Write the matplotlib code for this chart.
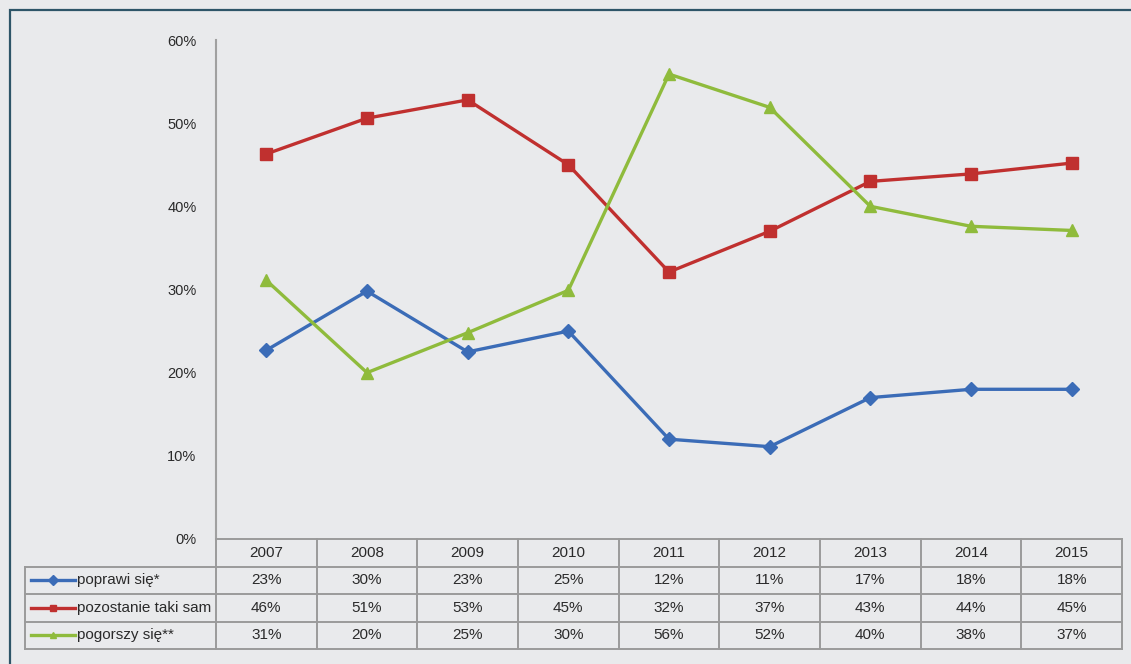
import matplotlib
matplotlib.use('Agg')
import matplotlib.pyplot as plt
from matplotlib.patches import Rectangle
from matplotlib.lines import Line2D

plt.rcParams['font.family'] = ['Liberation Sans', 'DejaVu Sans']

years = ['2007', '2008', '2009', '2010', '2011', '2012', '2013', '2014', '2015']
names = ['poprawi się*', 'pozostanie taki sam', 'pogorszy się**']

# values
poprawi = [22.7, 29.8, 22.5, 25.0, 12.0, 11.1, 17.0, 18.0, 18.0]
pozostanie = [46.3, 50.6, 52.8, 45.0, 32.1, 37.0, 43.0, 43.9, 45.2]
pogorszy = [31.1, 20.0, 24.8, 29.9, 55.9, 51.9, 40.0, 37.6, 37.1]

# values printed in the table
poprawi_txt = ['23%', '30%', '23%', '25%', '12%', '11%', '17%', '18%', '18%']
pozostanie_txt = ['46%', '51%', '53%', '45%', '32%', '37%', '43%', '44%', '45%']
pogorszy_txt = ['31%', '20%', '25%', '30%', '56%', '52%', '40%', '38%', '37%']

yticks = [0, 10, 20, 30, 40, 50, 60]

bg = '#e9eaec'
grid_c = '#9a9a9a'
txt_c = '#2a2a2a'
colors = ['#3b6cb7', '#c0302f', '#8fbb3c']
markers = ['D', 's', '^']
msizes = [7, 9, 9]

W, H = 1131, 664
fig = plt.figure(figsize=(W / 100, H / 100), dpi=100, facecolor=bg)

def box(x0, y0, x1, y1):
    return [x0 / W, 1 - y1 / H, (x1 - x0) / W, (y1 - y0) / H]

# frame (only top and left visible)
fig.add_artist(Rectangle((9.5 / W, -0.2), 1.5, 1 - 10.5 / H + 0.2,
                         transform=fig.transFigure, fill=False,
                         edgecolor='#2e5568', linewidth=1.6))

ax = fig.add_axes(box(216, 40, 1122, 539))
ax.set_facecolor(bg)
series = [poprawi, pozostanie, pogorszy]
xs = list(range(len(years)))
for vals, c, m, ms in zip(series, colors, markers, msizes):
    ax.plot(xs, vals, color=c, lw=2.4, marker=m, markersize=ms,
            markerfacecolor=c, markeredgecolor=c, zorder=3)
ax.set_xlim(-0.5, len(years) - 0.5)
ax.set_ylim(0, 60)
ax.set_yticks(yticks)
ax.set_yticklabels([f'{v}%' for v in yticks], fontsize=10.5, color=txt_c)
ax.tick_params(axis='y', length=0, pad=14)
ax.set_xticks([])
for s in ['top', 'right', 'bottom']:
    ax.spines[s].set_visible(False)
ax.spines['left'].set_color('#a0a0a0')
ax.spines['left'].set_linewidth(1.5)

# data table
tab = fig.add_axes(box(216, 539, 1122, 649))
tab.set_xlim(-0.5, len(years) - 0.5)
tab.set_ylim(4, 0)
tab.axis('off')
colw = 906 / len(years)
x_left = -0.5 - (216 - 25) / colw
kw = dict(color=grid_c, lw=1.4, clip_on=False)
tab.plot([-0.5, len(years) - 0.5], [0, 0], **kw)
for r in range(1, 5):
    tab.plot([x_left, len(years) - 0.5], [r, r], **kw)
for k in range(len(years) + 1):
    tab.plot([k - 0.5, k - 0.5], [0, 4], **kw)
tab.plot([x_left, x_left], [1, 4], **kw)

for i, y in enumerate(years):
    tab.text(i, 0.5, y, ha='center', va='center', fontsize=11, color=txt_c)
rows = [poprawi_txt, pozostanie_txt, pogorszy_txt]
for r, (row, name, c, m) in enumerate(zip(rows, names, colors, markers)):
    yy = r + 1.5
    for i, t in enumerate(row):
        tab.text(i, yy, t, ha='center', va='center', fontsize=11, color=txt_c)
    lx0 = -0.5 - (216 - 31) / colw
    lx1 = -0.5 - (216 - 75) / colw
    tab.add_line(Line2D([lx0, lx1], [yy, yy], color=c, lw=2.4, clip_on=False))
    tab.add_line(Line2D([(lx0 + lx1) / 2], [yy], color=c, marker=m,
                        markersize=5, markerfacecolor=c, clip_on=False))
    tab.text(-0.5 - (216 - 77) / colw, yy, name, ha='left', va='center',
             fontsize=11, color=txt_c)

fig.savefig('out.png', dpi=100, facecolor=bg)
